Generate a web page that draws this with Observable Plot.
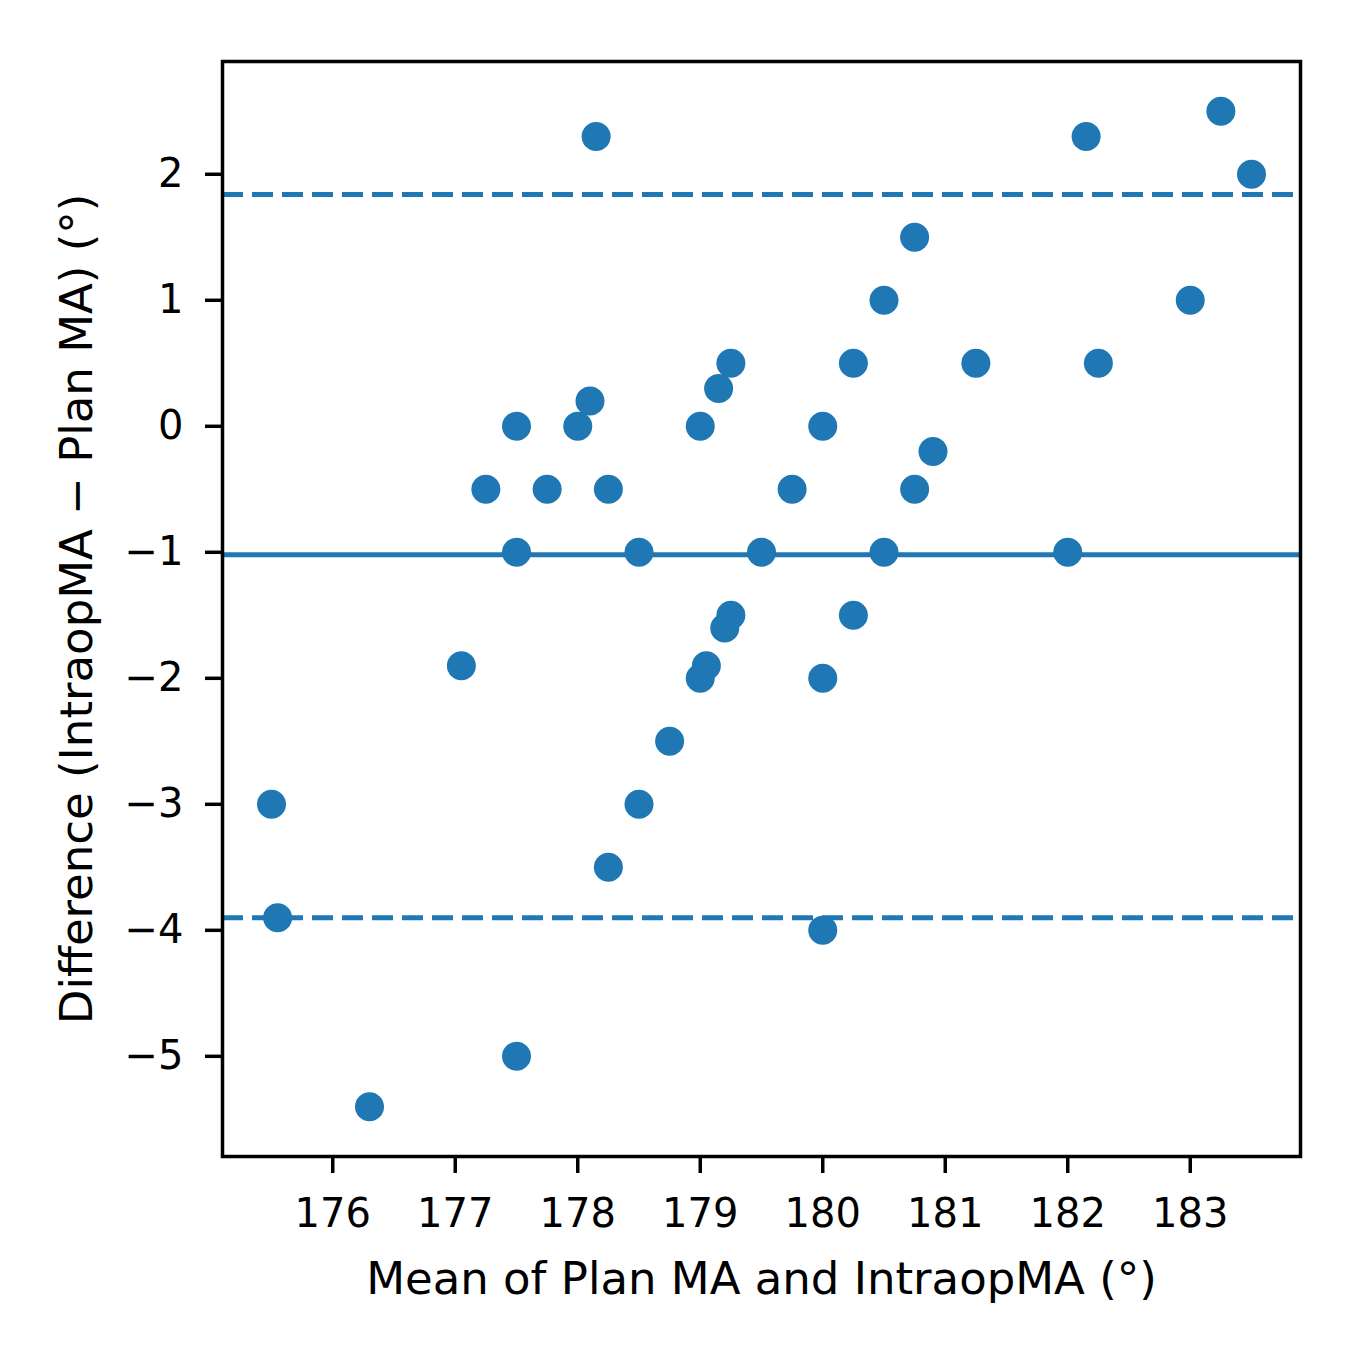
<!DOCTYPE html>
<html>
<head>
<meta charset="utf-8">
<script src="https://cdn.jsdelivr.net/npm/d3@7"></script>
<script src="https://cdn.jsdelivr.net/npm/@observablehq/plot@0.6"></script>
<style>
  html, body { margin: 0; padding: 0; background: #fff; }
  #chart { width: 1361px; height: 1361px; }
</style>
</head>
<body>
<div id="chart"></div>
<script>
// Mean of Plan MA and IntraopMA (°)
const meanMA = [
  175.5, 175.55, 176.3, 177.05, 177.25, 177.5, 177.5, 177.5, 177.75, 178.0,
  178.1, 178.15, 178.25, 178.25, 178.5, 178.5, 178.75, 179.0, 179.0, 179.05,
  179.15, 179.2, 179.25, 179.25, 179.5, 179.75, 180.0, 180.0, 180.0, 180.25,
  180.25, 180.5, 180.5, 180.75, 180.75, 180.9, 181.25, 182.0, 182.15, 182.25,
  183.0, 183.25, 183.5
];
// Difference (IntraopMA − Plan MA) (°)
const diffMA = [
  -3.0, -3.9, -5.4, -1.9, -0.5, 0.0, -1.0, -5.0, -0.5, 0.0,
  0.2, 2.3, -0.5, -3.5, -1.0, -3.0, -2.5, 0.0, -2.0, -1.9,
  0.3, -1.6, 0.5, -1.5, -1.0, -0.5, 0.0, -2.0, -4.0, 0.5,
  -1.5, 1.0, -1.0, 1.5, -0.5, -0.2, 0.5, -1.0, 2.3, 0.5,
  1.0, 2.5, 2.0
];
const meanDiff = [-1.02];
const limitsOfAgreement = [1.84, -3.90];
const xTicks = [176, 177, 178, 179, 180, 181, 182, 183];
const yTicks = [-5, -4, -3, -2, -1, 0, 1, 2];
const xLabel = "Mean of Plan MA and IntraopMA (°)";
const yLabel = "Difference (IntraopMA − Plan MA) (°)";

const points = meanMA.map((m, i) => ({m, d: diffMA[i]}));
const blue = "#1f77b4";

const chart = Plot.plot({
  width: 1361,
  height: 1361,
  marginLeft: 222,
  marginRight: 61,
  marginTop: 61,
  marginBottom: 205,
  style: {fontFamily: "'DejaVu Sans', sans-serif", fontSize: "40px", color: "#000", background: "#fff"},
  x: {domain: [175.1, 183.9], ticks: xTicks, tickSize: 17, tickPadding: 25, label: null, tickFormat: d3.format("d")},
  y: {domain: [-5.795, 2.895], ticks: yTicks, tickSize: 17, tickPadding: 22, label: null, tickFormat: d3.format("d")},
  marks: [
    Plot.axisX({ticks: xTicks, tickSize: 17, tickPadding: 25, strokeWidth: 3.5, label: null, tickFormat: d3.format("d")}),
    Plot.axisY({ticks: yTicks, tickSize: 17, tickPadding: 22, strokeWidth: 3.5, label: null, tickFormat: d3.format("d")}),
    Plot.ruleY(meanDiff, {stroke: blue, strokeWidth: 5}),
    Plot.ruleY(limitsOfAgreement, {stroke: blue, strokeWidth: 5, strokeDasharray: "21,9"}),
    Plot.dot(points, {x: "m", y: "d", r: 14.5, fill: blue, stroke: "none"}),
    Plot.frame({stroke: "#000", strokeWidth: 3.5}),
    Plot.text([xLabel], {frameAnchor: "bottom", dy: 123, text: d => d, fontSize: 45, fill: "#000", lineAnchor: "middle", textAnchor: "middle"}),
    Plot.text([yLabel], {frameAnchor: "left", dx: -145, rotate: -90, text: d => d, fontSize: 45, fill: "#000", lineAnchor: "middle", textAnchor: "middle"})
  ]
});
document.getElementById("chart").appendChild(chart);
</script>
</body>
</html>
